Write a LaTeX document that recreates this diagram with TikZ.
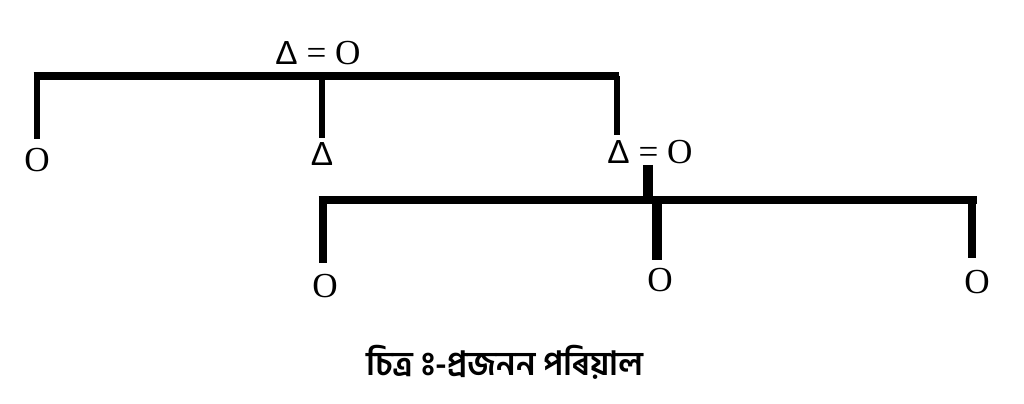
\documentclass[tikz,border=0pt]{standalone}
\usepackage{fontspec}
\setmainfont{Liberation Serif}
\newfontfamily\deltafont{Liberation Sans}
\newfontfamily\bnfont[Script=Bengali]{Hind Siliguri}
\usetikzlibrary{calc}

\newcommand{\sym}{{\deltafont\fontsize{19}{20}\selectfont Δ}}
\newcommand{\visarga}{\XeTeXglyph\XeTeXcharglyph"0983\relax}

\begin{document}
\begin{tikzpicture}[line cap=butt,line join=miter,x=0.02cm,y=-0.02cm,
  bar/.style={line width=4pt},
  stem/.style={line width=3.4pt},
  heavy/.style={line width=5.6pt},
  lbl/.style={font=\fontsize{20}{20}\selectfont,inner sep=0pt}]
\useasboundingbox (0,0) rectangle (1024,404);

% first generation
\node[lbl] (P) at (318,53) {\sym\ = O};
\coordinate (PL) at (37,76);
\coordinate (PM) at (322,76);
\coordinate (PR) at (617,76);

\node[lbl] (A) at (37,160) {O};
\node[lbl] (B) at (322,154) {\sym};
\node[lbl] (C) at (650,152) {\sym\ = O};

\draw[bar] ($(PL)+(-3.5,0)$) -- ($(PR)+(1.7,0)$);
\draw[stem] (PL) -- (PL |- 0,139);
\draw[stem] (PM) -- (PM |- 0,138);
\draw[stem] (PR) -- (PR |- 0,135);

% second generation
\coordinate (Q) at (648,165);
\coordinate (QL) at (323,200);
\coordinate (QM) at (657,200);
\coordinate (QR) at (972,200);

\node[lbl] (D) at (325,286) {O};
\node[lbl] (E) at (660,280) {O};
\node[lbl] (F) at (977,282) {O};

\draw[heavy] (Q) -- (Q |- QL);
\draw[line width=4.5pt] ($(QL)+(-4.5,0)$) -- ($(QR)+(4.5,0)$);
\draw[bar] (QL) -- (QL |- 0,263);
\draw[heavy] (QM) -- (QM |- 0,260);
\draw[bar] (QR) -- (QR |- 0,258);

\begin{normalsize}
\node[inner sep=0pt,font=\bnfont\bfseries\fontsize{19}{21}\selectfont] (cap) at (505,362) {চিত্ৰ \visarga-প্ৰজনন পৰিয়াল};
\end{normalsize}
\end{tikzpicture}
\end{document}
